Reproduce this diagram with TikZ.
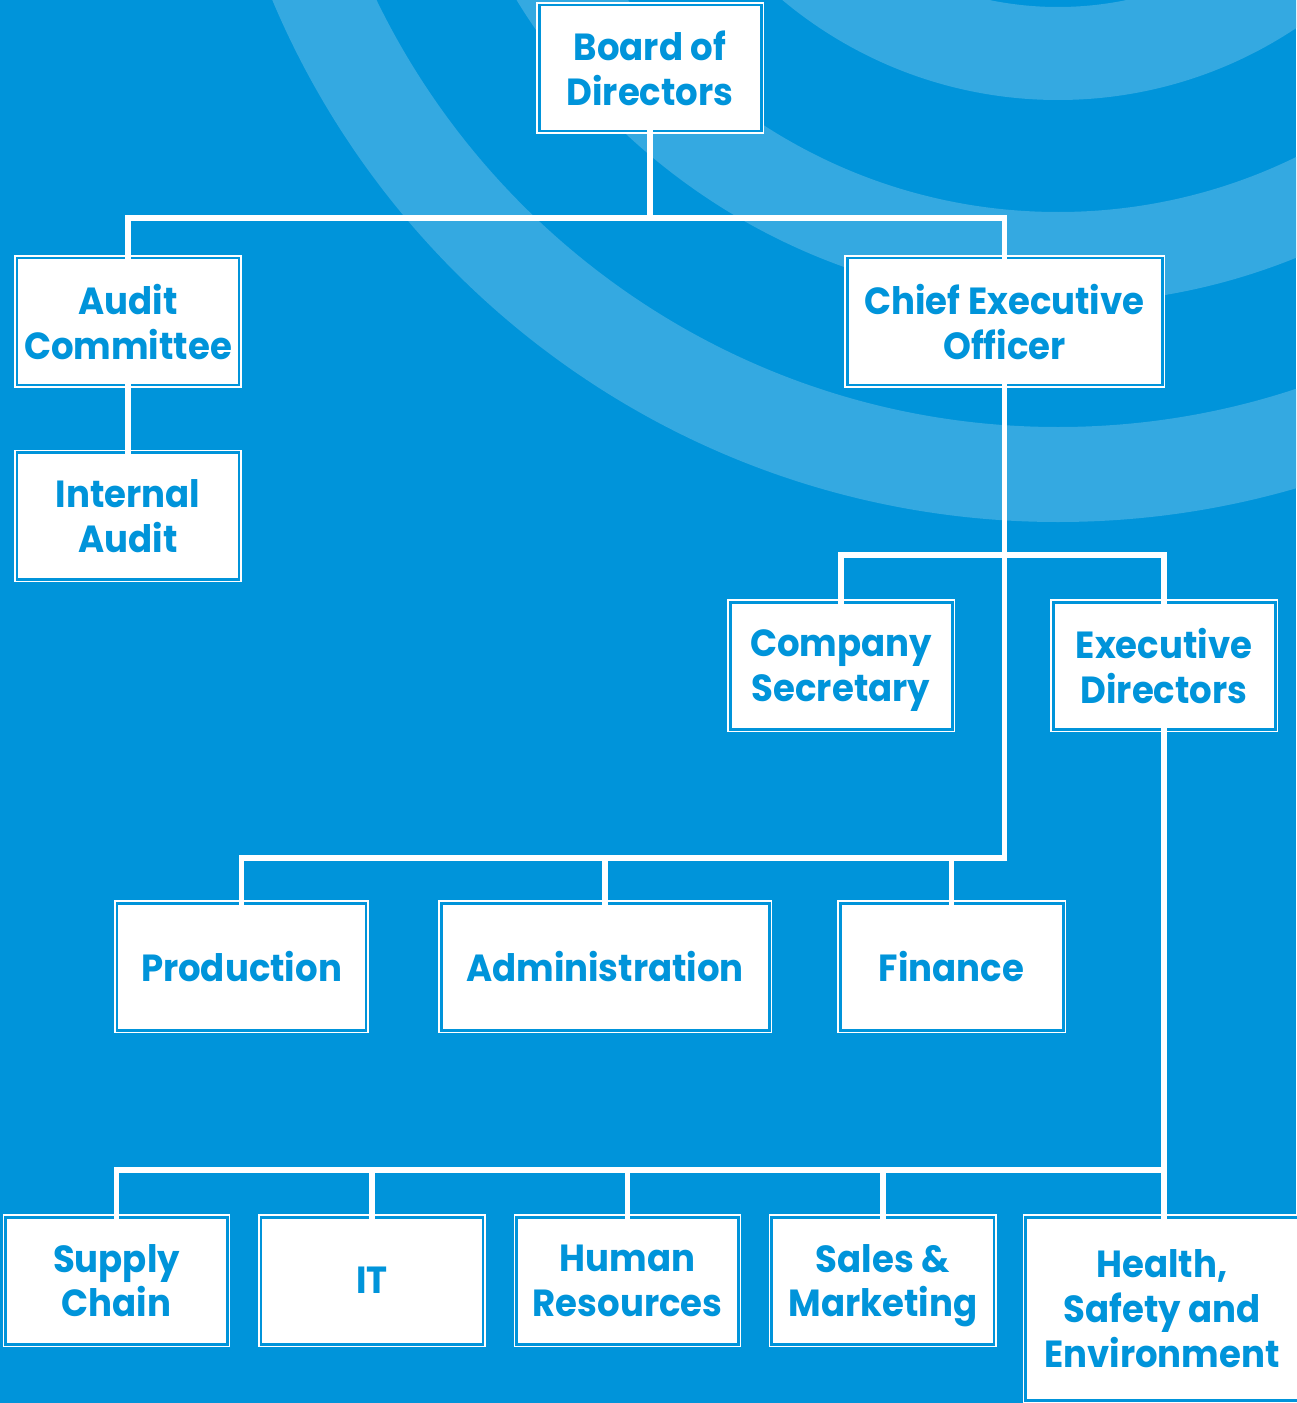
\documentclass[tikz,border=0pt]{standalone}
\usepackage{fontspec}
\setmainfont{Poppins}[FakeStretch=0.94]
\usetikzlibrary{positioning}
\definecolor{chartblue}{RGB}{0,148,218}
\definecolor{ringblue}{RGB}{52,169,225}

\begin{document}
\begin{tikzpicture}[
            node distance=6.4mm,
            unit/.style={rectangle, draw=white, fill=white, line width=0.85pt,
                         double=chartblue, double distance=1.7pt,
                         minimum width=44.4mm, minimum height=25.4mm,
                         inner sep=0pt, text depth=0pt, align=center, text=chartblue,
                         font=\fontsize{21.5}{25.6}\selectfont\bfseries},
            link/.style={draw=white, line width=3pt, shorten <=-1.5pt, shorten >=-1.5pt},
        ]
            \useasboundingbox (0,0) rectangle (25.92,-28.06);
            \fill[chartblue] (0,0) rectangle (25.92,-28.06);

            % rings in the upper right corner
            \coordinate (hub) at (21.16,6.60);
            \begin{scope}
                \clip (0,0) rectangle (25.92,-28.06);
                \fill[ringblue, even odd rule]
                    (hub) circle[radius=17.04] (hub) circle[radius=15.14]
                    (hub) circle[radius=12.68] (hub) circle[radius=10.84]
                    (hub) circle[radius=8.60]  (hub) circle[radius=6.74];
            \end{scope}

            % bus levels
            \coordinate (topbus) at (0,-4.36);
            \coordinate (secbus) at (0,-11.10);
            \coordinate (midbus) at (0,-17.16);
            \coordinate (lowbus) at (0,-23.40);

            \node[unit, minimum height=25.2mm] (board) at (13.00,-1.36) {Board of\\Directors};
            \node[unit] (audit) at (2.56,-6.43) {Audit\\Committee};
            \node[unit] (intaudit) at (2.56,-10.32) {Internal\\Audit};
            \node[unit, minimum width=63mm] (ceo) at (20.09,-6.43) {Chief Executive\\Officer};
            \node[unit] (secretary) at (16.82,-13.31) {Company\\Secretary};
            \node[unit] (execdir) at (23.28,-13.31) {Executive\\Directors};

            \node[unit, minimum width=49.8mm] (production) at (4.83,-19.33) {Production};
            \node[unit, minimum width=65.6mm] (admin) at (12.10,-19.33) {Administration};
            \node[unit, minimum width=44.6mm] (finance) at (19.03,-19.33) {Finance};

            \node[unit] (supply) at (2.33,-25.61) {Supply\\Chain};
            \node[unit, right=of supply] (it) {IT};
            \node[unit, right=of it] (hr) {Human\\Resources};
            \node[unit, right=of hr] (sales) {Sales \&\\Marketing};
            \node[unit, minimum width=54.6mm, minimum height=36.6mm] (hse) at (23.24,-26.17)
                {Health,\\Safety and\\Environment};

            \draw[link] (board) -- (board |- topbus) -| (audit);
            \draw[link] (board |- topbus) -| (ceo);
            \draw[link] (audit) -- (intaudit);
            \draw[link] (ceo) -- (ceo |- midbus) -| (production);
            \foreach \n in {secretary, execdir}
                \draw[link] (ceo |- secbus) -| (\n);
            \foreach \n in {admin, finance}
                \draw[link] (ceo |- midbus) -| (\n);
            \draw[link] (execdir) -- (execdir |- hse.north);
            \foreach \n in {supply, it, hr, sales}
                \draw[link] (execdir |- lowbus) -| (\n);
        \end{tikzpicture}
\end{document}
